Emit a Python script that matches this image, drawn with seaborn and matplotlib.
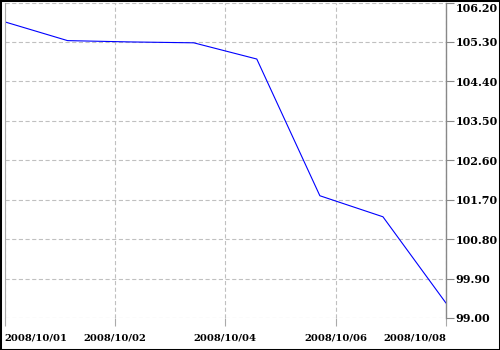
import matplotlib
matplotlib.use("Agg")
import matplotlib.pyplot as plt
import seaborn as sns
import pandas as pd
from matplotlib.patches import Rectangle

# data
point_index = [0, 1, 2, 3, 4, 5, 6, 7]
values = [105.76, 105.33, 105.30, 105.28, 104.91, 101.79, 101.31, 99.34]
tick_positions = [0, 1.75, 3.5, 5.25, 7]
tick_labels = ["2008/10/01", "2008/10/02", "2008/10/04", "2008/10/06", "2008/10/08"]
y_ticks = [99.00, 99.90, 100.80, 101.70, 102.60, 103.50, 104.40, 105.30, 106.20]

df = pd.DataFrame({"idx": point_index, "value": values})

sns.set_theme(style="white")
plt.rcParams["lines.scale_dashes"] = False
plt.rcParams["font.family"] = ["DejaVu Serif"]

fig = plt.figure(figsize=(5, 3.5), dpi=100)
ax = fig.add_axes([4.5 / 500, 1 - 318 / 350, (446 - 4.5) / 500, (318 - 2.5) / 350])

sns.lineplot(data=df, x="idx", y="value", ax=ax, color="#0000ff", linewidth=0.8)

ax.set_xlim(0, 7)
ax.set_ylim(99.0, 106.2)
ax.set_xlabel("")
ax.set_ylabel("")

ax.yaxis.tick_right()
ax.set_yticks(y_ticks)
ax.set_yticklabels([f"{v:.2f}" for v in y_ticks], fontsize=8.0, fontweight="bold",
                   family="DejaVu Serif")
yl = ax.get_yticklabels()
yl[-1].set_va("top")
ax.set_xticks(tick_positions)
ax.set_xticklabels(tick_labels, fontsize=7.2, fontweight="bold", family="DejaVu Serif")
xl = ax.get_xticklabels()
xl[0].set_ha("left")
xl[-1].set_ha("right")

ax.tick_params(axis="y", which="both", right=True, left=False, length=5.5, width=0.8,
               color="#888888", pad=1.5, labelcolor="black")
ax.tick_params(axis="x", which="both", bottom=True, length=6, width=0.8,
               color="#aaaaaa", pad=5, labelcolor="black")

ax.grid(True, color="#c0c0c0", linestyle=(0, (3.0, 1.8)), linewidth=0.8)
for s in ["top", "bottom"]:
    ax.spines[s].set_visible(False)
ax.spines["left"].set_color("#aaaaaa")
ax.spines["left"].set_linewidth(0.8)
ax.spines["right"].set_color("#888888")
ax.spines["right"].set_linewidth(1.0)

fig.patches.append(Rectangle((0, 0), 1, 1, transform=fig.transFigure, fill=False,
                             edgecolor="black", linewidth=2.2, zorder=10))

fig.savefig("out.png", dpi=100, facecolor="white")
